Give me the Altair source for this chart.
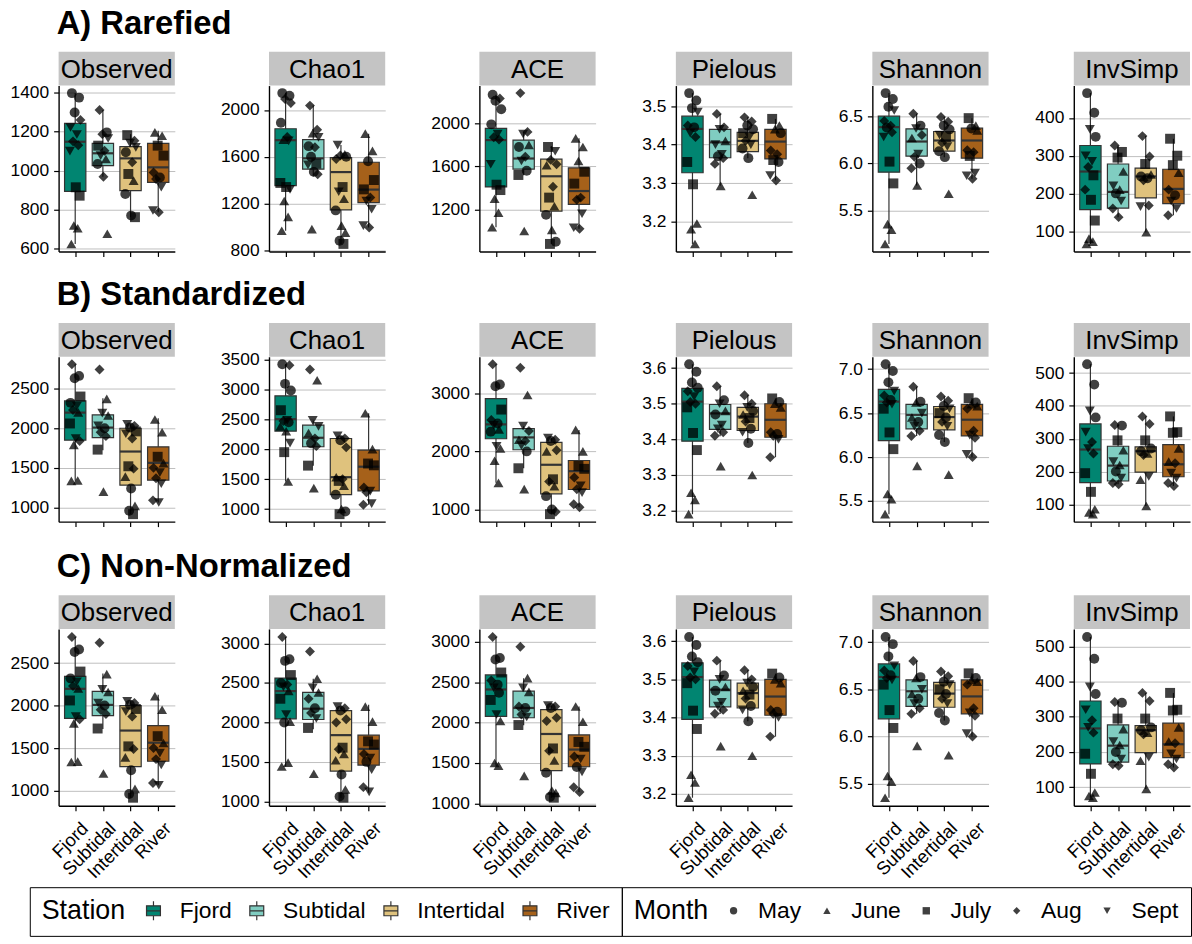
import altair as alt
import pandas as pd

FONT = "Liberation Sans"

STATIONS = ["Fjord", "Subtidal", "Intertidal", "River"]
STATION_COLORS = ["#018571", "#80cdc1", "#dfc27d", "#a6611a"]
MONTHS = ["May", "June", "July", "Aug", "Sept"]
MONTH_SHAPES = ["circle", "triangle-up", "square", "diamond", "triangle-down"]
MAY, JUN, JUL, AUG, SEP = MONTHS

# ---------------------------------------------------------------- A) Rarefied
RAR_OBSERVED = {
    "Fjord": [(1397, MAY), (1374, MAY), (1298, MAY), (1260, AUG), (1221, SEP), (1185, SEP), (1150, AUG),
              (1130, AUG), (1100, SEP), (915, JUL), (872, JUL), (719, JUN), (705, JUN), (625, JUN)],
    "Subtidal": [(1311, AUG), (1196, MAY), (1187, AUG), (1165, SEP), (1128, JUL), (1102, AUG), (1077, SEP),
                 (1060, JUN), (1034, MAY), (969, AUG), (677, JUN)],
    "Intertidal": [(1182, JUL), (1153, AUG), (1141, SEP), (1119, SEP), (1094, MAY), (1043, AUG), (983, JUL),
                   (949, JUN), (881, MAY), (770, MAY), (762, JUL)],
    "River": [(1196, JUN), (1179, JUN), (1128, JUL), (1077, JUL), (991, AUG), (965, MAY), (957, AUG),
              (915, SEP), (796, SEP), (787, AUG)],
}
RAR_OBSERVED_BOX = {"Fjord": (625, 894, 1148, 1242, 1397), "Subtidal": (969, 1026, 1089, 1140, 1311),
                    "Intertidal": (762, 898, 1063, 1123, 1187), "River": (787, 940, 1017, 1140, 1204)}

RAR_CHAO1 = {
    "Fjord": [(2144, MAY), (2121, MAY), (2093, AUG), (2059, AUG), (1890, MAY), (1769, AUG), (1745, JUN),
              (1735, SEP), (1375, JUL), (1340, JUL), (1320, SEP), (1220, JUN), (1085, JUN), (966, JUN)],
    "Subtidal": [(2037, AUG), (1830, AUG), (1800, JUN), (1765, SEP), (1690, MAY), (1680, AUG), (1600, MAY),
                 (1540, JUL), (1530, SEP), (1470, MAY), (1450, AUG), (980, JUN)],
    "Intertidal": [(1699, SEP), (1620, JUN), (1610, AUG), (1600, MAY), (1580, AUG), (1340, JUL), (1300, SEP),
                   (1240, JUN), (1140, MAY), (1010, JUN), (950, JUN), (880, MAY), (853, JUL)],
    "River": [(1797, JUN), (1650, JUN), (1560, MAY), (1400, JUL), (1320, JUL), (1250, AUG), (1220, SEP),
              (1150, SEP), (1010, SEP), (994, AUG)],
}
RAR_CHAO1_BOX = {"Fjord": (966, 1352, 1741, 1839, 2144), "Subtidal": (1431, 1493, 1586, 1746, 2037),
                 "Intertidal": (853, 1144, 1468, 1592, 1699), "River": (994, 1206, 1318, 1552, 1797)}

RAR_ACE = {
    "Fjord": [(2265, MAY), (2230, AUG), (2210, MAY), (2130, MAY), (1990, MAY), (1900, SEP), (1870, AUG),
              (1850, AUG), (1620, SEP), (1430, JUL), (1380, JUL), (1300, JUN), (1170, JUN), (1035, JUN)],
    "Subtidal": [(2280, AUG), (1920, AUG), (1900, SEP), (1800, JUN), (1780, MAY), (1690, AUG), (1650, SEP),
                 (1560, MAY), (1520, JUL), (1000, JUN)],
    "Intertidal": [(1780, JUL), (1740, SEP), (1660, AUG), (1620, AUG), (1610, JUN), (1410, AUG), (1310, JUL),
                   (1230, JUN), (1150, MAY), (1010, JUN), (900, MAY), (880, JUL)],
    "River": [(1860, JUN), (1780, JUN), (1650, JUN), (1550, JUL), (1440, JUL), (1310, AUG), (1290, AUG),
              (1160, SEP), (1030, SEP), (1020, AUG)],
}
RAR_ACE_BOX = {"Fjord": (1035, 1409, 1844, 1953, 2265), "Subtidal": (1518, 1574, 1673, 1844, 1920),
               "Intertidal": (880, 1184, 1508, 1667, 1788), "River": (1020, 1247, 1371, 1586, 1860)}

RAR_PIELOUS = {
    "Fjord": [(3.534, MAY), (3.515, MAY), (3.495, MAY), (3.485, SEP), (3.45, AUG), (3.445, MAY), (3.43, SEP),
              (3.42, AUG), (3.355, JUL), (3.297, JUL), (3.195, JUN), (3.18, JUN), (3.142, JUN)],
    "Subtidal": [(3.48, AUG), (3.445, AUG), (3.44, SEP), (3.41, JUN), (3.40, SEP), (3.375, SEP), (3.37, MAY),
                 (3.365, AUG), (3.35, AUG), (3.293, JUN)],
    "Intertidal": [(3.471, AUG), (3.46, AUG), (3.45, MAY), (3.44, MAY), (3.43, JUL), (3.42, SEP), (3.41, AUG),
                   (3.40, SEP), (3.39, MAY), (3.365, MAY), (3.27, JUN)],
    "River": [(3.467, JUL), (3.45, JUN), (3.44, JUN), (3.43, MAY), (3.385, AUG), (3.375, AUG), (3.36, JUL),
              (3.355, MAY), (3.32, SEP), (3.307, AUG)],
}
RAR_PIELOUS_BOX = {"Fjord": (3.142, 3.327, 3.441, 3.474, 3.534), "Subtidal": (3.293, 3.366, 3.406, 3.44, 3.48),
                   "Intertidal": (3.365, 3.382, 3.41, 3.432, 3.471), "River": (3.307, 3.363, 3.408, 3.44, 3.467)}

RAR_SHANNON = {
    "Fjord": [(6.743, MAY), (6.68, MAY), (6.60, MAY), (6.56, SEP), (6.45, AUG), (6.40, AUG), (6.38, MAY),
              (6.33, AUG), (6.28, SEP), (6.02, JUL), (5.79, JUL), (5.36, JUN), (5.30, JUN), (5.151, JUN)],
    "Subtidal": [(6.525, AUG), (6.40, MAY), (6.37, SEP), (6.30, AUG), (6.27, JUN), (6.10, SEP), (6.07, AUG),
                 (6.00, MAY), (5.95, AUG), (5.768, JUN)],
    "Intertidal": [(6.49, AUG), (6.44, AUG), (6.40, MAY), (6.36, MAY), (6.30, SEP), (6.28, JUL), (6.22, AUG),
                   (6.18, SEP), (6.13, MAY), (6.067, MAY), (5.68, JUN)],
    "River": [(6.479, JUL), (6.40, JUN), (6.37, MAY), (6.35, JUN), (6.14, AUG), (6.12, AUG), (6.08, JUL),
              (5.90, SEP), (5.87, SEP), (5.838, AUG)],
}
RAR_SHANNON_BOX = {"Fjord": (5.151, 5.908, 6.384, 6.50, 6.743), "Subtidal": (5.768, 6.077, 6.232, 6.366, 6.525),
                   "Intertidal": (6.067, 6.13, 6.243, 6.338, 6.49), "River": (5.838, 6.056, 6.243, 6.373, 6.479)}

RAR_INVSIMP = {
    "Fjord": [(466, MAY), (414, MAY), (370, SEP), (350, MAY), (300, SEP), (285, SEP), (270, AUG), (248, JUL),
              (210, AUG), (183, JUL), (128, JUL), (80, JUN), (72, JUN), (66, JUN)],
    "Subtidal": [(327, AUG), (310, JUL), (295, JUL), (258, JUN), (220, SEP), (210, JUN), (200, MAY),
                 (180, SEP), (160, AUG), (137, AUG)],
    "Intertidal": [(352, AUG), (298, AUG), (278, JUL), (250, JUN), (245, MAY), (240, MAY), (235, AUG),
                   (168, AUG), (165, SEP), (97, JUN)],
    "River": [(345, JUL), (300, JUL), (275, JUL), (255, JUN), (210, AUG), (195, MAY), (180, SEP), (160, SEP),
              (142, AUG)],
}
RAR_INVSIMP_BOX = {"Fjord": (66, 157, 258, 327, 466), "Subtidal": (137, 161, 204, 278, 327),
                   "Intertidal": (97, 188, 245, 267, 352), "River": (142, 173, 212, 264, 345)}

# ------------------------------------------------------------ B) Standardized
STD_OBSERVED = {
    "Fjord": [(2807, AUG), (2660, MAY), (2630, MAY), (2400, JUL), (2320, MAY), (2280, SEP), (2230, AUG),
              (2200, JUN), (2060, JUL), (1870, SEP), (1840, AUG), (1790, JUN), (1340, JUN), (1336, JUN)],
    "Subtidal": [(2740, AUG), (2370, JUN), (2190, SEP), (2160, JUN), (2030, SEP), (2000, MAY), (1950, AUG),
                 (1900, AUG), (1730, JUL), (1200, JUN)],
    "Intertidal": [(2050, SEP), (2030, AUG), (2010, MAY), (1960, JUL), (1930, SEP), (1870, AUG), (1520, JUL),
                   (1490, AUG), (1390, JUN), (1240, MAY), (1020, JUN), (960, MAY), (916, JUL)],
    "River": [(2110, JUN), (1950, JUN), (1640, JUL), (1560, JUN), (1500, AUG), (1440, SEP), (1370, AUG),
              (1300, SEP), (1090, AUG), (1063, SEP)],
}
STD_OBSERVED_BOX = {"Fjord": (1336, 1849, 2197, 2344, 2807), "Subtidal": (1723, 1882, 2008, 2168, 2378),
                    "Intertidal": (916, 1282, 1706, 2000, 2059), "River": (1063, 1345, 1563, 1765, 2126)}

STD_CHAO1 = {
    "Fjord": [(3417, MAY), (3400, AUG), (3090, MAY), (2980, MAY), (2650, JUL), (2480, SEP), (2470, AUG),
              (2450, MAY), (2380, JUN), (2300, JUN), (2100, SEP), (1950, JUL), (1460, JUN)],
    "Subtidal": [(3330, AUG), (3150, JUN), (2480, SEP), (2380, SEP), (2270, JUN), (2180, AUG), (2100, MAY),
                 (2050, AUG), (1725, JUL), (1350, JUN)],
    "Intertidal": [(2222, SEP), (2180, AUG), (2150, MAY), (2030, AUG), (1530, JUN), (1500, AUG), (1470, JUL),
                   (1390, JUN), (1240, MAY), (1000, JUN), (960, MAY), (915, JUL)],
    "River": [(2600, JUN), (2000, JUN), (1760, JUL), (1730, JUL), (1360, AUG), (1300, SEP), (1280, AUG),
              (1090, SEP), (1072, AUG)],
}
STD_CHAO1_BOX = {"Fjord": (1460, 2300, 2500, 2890, 3417), "Subtidal": (1725, 2040, 2190, 2400, 2480),
                 "Intertidal": (915, 1240, 1532, 2178, 2222), "River": (1072, 1303, 1707, 1984, 2600)}

STD_ACE = {
    "Fjord": [(3500, AUG), (3150, MAY), (3120, MAY), (2720, JUL), (2540, AUG), (2480, MAY), (2450, SEP),
              (2380, JUN), (2340, MAY), (2090, SEP), (2050, JUN), (1840, JUN), (1459, JUN)],
    "Subtidal": [(3440, AUG), (2970, JUN), (2435, SEP), (2350, AUG), (2200, JUN), (2180, AUG), (2100, SEP),
                 (2000, MAY), (1710, JUL), (1350, JUN)],
    "Intertidal": [(2230, SEP), (2200, AUG), (2180, MAY), (2020, AUG), (2000, JUN), (1520, JUL), (1480, AUG),
                   (1400, JUN), (1230, MAY), (1000, MAY), (960, AUG), (920, JUL)],
    "River": [(2370, JUN), (2000, JUN), (1750, JUL), (1700, JUL), (1550, AUG), (1410, SEP), (1350, AUG),
              (1290, SEP), (1090, AUG), (1040, AUG)],
}
STD_ACE_BOX = {"Fjord": (1459, 2218, 2465, 2908, 3500), "Subtidal": (1710, 2029, 2241, 2391, 2435),
               "Intertidal": (920, 1270, 1770, 2155, 2230), "River": (1040, 1344, 1660, 1844, 2370)}

STD_PIELOUS = {
    "Fjord": [(3.611, MAY), (3.59, MAY), (3.56, MAY), (3.545, MAY), (3.535, AUG), (3.52, SEP), (3.505, AUG),
              (3.50, AUG), (3.49, JUL), (3.418, JUL), (3.37, JUL), (3.25, JUN), (3.23, JUN), (3.19, JUN)],
    "Subtidal": [(3.549, AUG), (3.51, MAY), (3.50, SEP), (3.48, JUN), (3.47, MAY), (3.44, SEP), (3.43, SEP),
                 (3.42, AUG), (3.41, AUG), (3.325, JUN)],
    "Intertidal": [(3.524, AUG), (3.50, AUG), (3.49, SEP), (3.48, MAY), (3.47, JUN), (3.46, JUL), (3.45, AUG),
                   (3.43, MAY), (3.42, SEP), (3.39, MAY), (3.30, JUN)],
    "River": [(3.515, JUL), (3.505, MAY), (3.50, JUN), (3.49, JUN), (3.42, AUG), (3.415, MAY), (3.41, AUG),
              (3.40, SEP), (3.35, AUG)],
}
STD_PIELOUS_BOX = {"Fjord": (3.19, 3.395, 3.506, 3.543, 3.611), "Subtidal": (3.409, 3.428, 3.473, 3.498, 3.549),
                   "Intertidal": (3.39, 3.425, 3.464, 3.49, 3.524), "River": (3.35, 3.406, 3.455, 3.50, 3.515)}

STD_SHANNON = {
    "Fjord": [(7.056, MAY), (6.98, MAY), (6.85, MAY), (6.75, SEP), (6.70, AUG), (6.65, MAY), (6.62, AUG),
              (6.60, SEP), (6.55, JUL), (6.28, JUL), (6.09, JUL), (5.58, JUN), (5.52, JUN), (5.35, JUN)],
    "Subtidal": [(6.80, AUG), (6.63, MAY), (6.62, JUN), (6.50, SEP), (6.45, JUN), (6.40, MAY), (6.35, SEP),
                 (6.30, AUG), (6.24, AUG), (5.90, JUN)],
    "Intertidal": [(6.69, AUG), (6.64, AUG), (6.58, MAY), (6.55, SEP), (6.50, JUL), (6.45, MAY), (6.40, AUG),
                   (6.35, SEP), (6.25, MAY), (6.17, MAY), (5.80, JUN)],
    "River": [(6.67, JUL), (6.62, MAY), (6.60, JUN), (6.58, JUN), (6.55, AUG), (6.30, AUG), (6.25, SEP),
              (6.22, AUG), (6.03, SEP), (6.00, AUG)],
}
STD_SHANNON_BOX = {"Fjord": (5.35, 6.187, 6.631, 6.77, 7.056), "Subtidal": (6.24, 6.32, 6.48, 6.60, 6.80),
                   "Intertidal": (6.17, 6.31, 6.455, 6.575, 6.69), "River": (6.00, 6.24, 6.425, 6.60, 6.67)}

STD_INVSIMP = {
    "Fjord": [(527, MAY), (465, MAY), (385, SEP), (365, MAY), (320, SEP), (290, AUG), (270, SEP), (255, AUG),
              (195, JUL), (138, JUL), (85, JUN), (75, JUN), (70, JUN)],
    "Subtidal": [(342, AUG), (340, MAY), (295, JUL), (265, JUN), (230, SEP), (220, JUN), (200, MAY),
                 (180, SEP), (165, AUG), (161, AUG)],
    "Intertidal": [(368, AUG), (345, AUG), (295, JUL), (270, MAY), (262, MAY), (255, JUN), (250, AUG),
                   (185, SEP), (175, JUN), (95, JUN)],
    "River": [(368, JUL), (320, JUL), (318, JUL), (270, JUN), (230, JUN), (225, AUG), (195, SEP), (180, SEP),
              (165, AUG), (156, AUG)],
}
STD_INVSIMP_BOX = {"Fjord": (70, 166, 267, 345, 527), "Subtidal": (161, 171, 218, 277, 342),
                   "Intertidal": (95, 198, 262, 275, 368), "River": (156, 184, 222, 282, 368)}

# --------------------------------------------------------- C) Non-Normalized
RAW_OBSERVED, RAW_OBSERVED_BOX = STD_OBSERVED, STD_OBSERVED_BOX
RAW_PIELOUS, RAW_PIELOUS_BOX = STD_PIELOUS, STD_PIELOUS_BOX
RAW_SHANNON, RAW_SHANNON_BOX = STD_SHANNON, STD_SHANNON_BOX
RAW_INVSIMP, RAW_INVSIMP_BOX = STD_INVSIMP, STD_INVSIMP_BOX

RAW_CHAO1 = {
    "Fjord": [(3083, AUG), (2800, MAY), (2780, MAY), (2600, JUL), (2500, MAY), (2480, AUG), (2450, SEP),
              (2400, JUN), (2300, JUL), (2100, SEP), (2010, JUN), (2000, MAY), (1490, JUN), (1442, JUN)],
    "Subtidal": [(2900, AUG), (2554, JUN), (2440, SEP), (2380, JUN), (2300, AUG), (2180, MAY), (2120, AUG),
                 (2050, SEP), (1930, JUL), (1350, JUN)],
    "Intertidal": [(2200, SEP), (2180, AUG), (2150, MAY), (2040, AUG), (2000, AUG), (1680, JUL), (1660, AUG),
                   (1600, JUN), (1520, JUN), (1340, MAY), (1150, JUN), (1060, MAY), (1046, JUL)],
    "River": [(2200, JUN), (2010, JUN), (1760, JUL), (1720, JUL), (1600, AUG), (1550, SEP), (1500, MAY),
              (1400, SEP), (1180, AUG), (1120, SEP)],
}
RAW_CHAO1_BOX = {"Fjord": (1442, 2045, 2397, 2562, 3083), "Subtidal": (1913, 2037, 2174, 2380, 2554),
                 "Intertidal": (1046, 1384, 1839, 2149, 2223), "River": (1108, 1459, 1665, 1839, 2223)}

RAW_ACE = {
    "Fjord": [(3060, AUG), (2800, MAY), (2780, MAY), (2620, JUL), (2520, AUG), (2470, MAY), (2430, SEP),
              (2370, MAY), (2280, JUL), (2100, SEP), (2020, JUN), (1500, JUN), (1466, JUN)],
    "Subtidal": [(2940, AUG), (2550, JUN), (2430, SEP), (2380, JUN), (2200, AUG), (2180, MAY), (2100, AUG),
                 (2070, SEP), (1970, JUL), (1340, JUN)],
    "Intertidal": [(2210, SEP), (2200, AUG), (2180, MAY), (2060, AUG), (2020, AUG), (1680, JUL), (1650, AUG),
                   (1530, JUN), (1380, MAY), (1160, JUN), (1130, JUN), (1080, MAY), (1070, JUL)],
    "River": [(2200, JUN), (2010, JUN), (1760, JUL), (1700, JUL), (1580, AUG), (1550, SEP), (1450, MAY),
              (1390, SEP), (1200, AUG), (1140, AUG)],
}
RAW_ACE_BOX = {"Fjord": (1466, 2076, 2410, 2590, 3060), "Subtidal": (1968, 2060, 2181, 2390, 2550),
               "Intertidal": (1070, 1406, 1859, 2161, 2210), "River": (1140, 1453, 1666, 1847, 2200)}

# y-axis tick values per panel
TICKS_RAR = [[600, 800, 1000, 1200, 1400], [800, 1200, 1600, 2000], [1200, 1600, 2000],
             [3.2, 3.3, 3.4, 3.5], [5.5, 6.0, 6.5], [100, 200, 300, 400]]
TICKS_STD = [[1000, 1500, 2000, 2500], [1000, 1500, 2000, 2500, 3000, 3500], [1000, 2000, 3000],
             [3.2, 3.3, 3.4, 3.5, 3.6], [5.5, 6.0, 6.5, 7.0], [100, 200, 300, 400, 500]]
TICKS_RAW = [[1000, 1500, 2000, 2500], [1000, 1500, 2000, 2500, 3000], [1000, 1500, 2000, 2500, 3000],
             [3.2, 3.3, 3.4, 3.5, 3.6], [5.5, 6.0, 6.5, 7.0], [100, 200, 300, 400, 500]]

METRICS = ["Observed", "Chao1", "ACE", "Pielous", "Shannon", "InvSimp"]
FORMATS = ["d", "d", "d", ".1f", ".1f", "d"]

# horizontal spread of the points inside each station column
JITTER = [-0.12, 0.14, -0.02, 0.19, -0.17, 0.06, -0.08, 0.11, -0.19, 0.02, 0.16, -0.05, 0.09, -0.14, 0.04]

PANEL_W = 117
STRIP_H = 34
BOX_HALF = 0.385
INK = "#333333"

color_scale = alt.Scale(domain=STATIONS, range=STATION_COLORS)
shape_scale = alt.Scale(domain=MONTHS, range=MONTH_SHAPES)

# small boxplot glyph for the station key
BOX_GLYPH = "M-0.7,-0.5H0.7V0.5H-0.7Z M0,-0.5V-0.95 M0,0.5V0.95 M-0.7,0H0.7"

station_legend = alt.Legend(
    title="Station", orient="none", legendX=-29, legendY=807, direction="horizontal",
    titleOrient="left", titleFontSize=27, titleFontWeight="normal", titleColor="black",
    titleFont=FONT, titlePadding=16, labelFont=FONT, labelFontSize=23, labelColor="black",
    labelOffset=15, columnPadding=13, symbolType=BOX_GLYPH, symbolSize=400,
    symbolStrokeColor=INK, symbolStrokeWidth=1.2, strokeColor="black", padding=12,
)
month_legend = alt.Legend(
    title="Month", orient="none", legendX=567, legendY=807, direction="horizontal",
    titleOrient="left", titleFontSize=27, titleFontWeight="normal", titleColor="black",
    titleFont=FONT, titlePadding=13, labelFont=FONT, labelFontSize=23, labelColor="black",
    labelOffset=13, columnPadding=14, symbolSize=55, symbolFillColor="black",
    symbolStrokeWidth=0, strokeColor="black", padding=12,
)


def panel(metric, points, box, ticks, fmt, height, show_labels):
    rows = []
    for si, st in enumerate(STATIONS):
        for k, (v, m) in enumerate(points[st]):
            rows.append({"station": st, "pos": si + JITTER[k % len(JITTER)], "value": v, "month": m})
    pdf = pd.DataFrame(rows)
    bdf = pd.DataFrame([
        {"station": st, "idx": si, "lo": box[st][0], "q1": box[st][1], "med": box[st][2],
         "q3": box[st][3], "hi": box[st][4]}
        for si, st in enumerate(STATIONS)
    ])
    allv = list(pdf["value"]) + list(bdf["lo"]) + list(bdf["hi"])
    vmin, vmax = min(allv), max(allv)
    pad = 0.05 * (vmax - vmin)

    yscale = alt.Scale(domain=[vmin - pad, vmax + pad], nice=False, zero=False)
    xscale = alt.Scale(domain=[-0.6, 3.6], nice=False, zero=False)
    yaxis = alt.Axis(values=ticks, format=fmt, title=None, grid=True)
    if show_labels:
        xaxis = alt.Axis(values=[0, 1, 2, 3], title=None, grid=False, labelAngle=-45,
                         labelAlign="right", labelBaseline="top", labelFontSize=18.5,
                         labelOverlap=False, labelPadding=8, labelOffset=3,
                         labelExpr="['Fjord','Subtidal','Intertidal','River'][datum.value]")
    else:
        xaxis = alt.Axis(values=[0, 1, 2, 3], title=None, grid=False, labels=False)

    # grey header strip with the metric name, sitting on top of the plot area
    sdf = pd.DataFrame({"metric": [metric]})
    strip_bg = alt.Chart(sdf).mark_rect(color="#C4C4C4").encode(
        x=alt.value(0), x2=alt.value(PANEL_W), y=alt.value(-STRIP_H), y2=alt.value(0)
    )
    strip_txt = alt.Chart(sdf).mark_text(fontSize=26, font=FONT, color="black").encode(
        x=alt.value(PANEL_W / 2), y=alt.value(-STRIP_H / 2 + 1), text="metric:N"
    )

    base = alt.Chart(bdf).transform_calculate(
        left=f"datum.idx - {BOX_HALF}", right=f"datum.idx + {BOX_HALF}"
    )
    whisker = base.mark_rule(color=INK, strokeWidth=1.2).encode(
        x=alt.X("idx:Q", scale=xscale, axis=xaxis),
        y=alt.Y("lo:Q", scale=yscale, axis=yaxis),
        y2="hi:Q",
    )
    boxes = base.mark_bar(stroke=INK, strokeWidth=1.2).encode(
        x=alt.X("left:Q", scale=xscale, axis=xaxis),
        x2="right:Q",
        y=alt.Y("q1:Q", scale=yscale, axis=yaxis),
        y2="q3:Q",
        fill=alt.Fill("station:N", scale=color_scale, legend=station_legend),
    )
    median = base.mark_rule(color=INK, strokeWidth=2.2).encode(
        x=alt.X("left:Q", scale=xscale, axis=xaxis),
        x2="right:Q",
        y=alt.Y("med:Q", scale=yscale, axis=yaxis),
    )
    dots = alt.Chart(pdf).mark_point(filled=True, color="black", opacity=0.75, size=100).encode(
        x=alt.X("pos:Q", scale=xscale, axis=xaxis),
        y=alt.Y("value:Q", scale=yscale, axis=yaxis),
        shape=alt.Shape("month:N", scale=shape_scale, legend=month_legend),
    )
    return alt.layer(whisker, boxes, median, dots, strip_bg, strip_txt).properties(
        width=PANEL_W, height=height
    )


def row(title, datasets, boxsets, ticks, height, show_labels):
    panels = [
        panel(METRICS[i], datasets[i], boxsets[i], ticks[i], FORMATS[i], height, show_labels)
        for i in range(len(METRICS))
    ]
    return alt.hconcat(*panels, spacing=45.8).properties(
        title=alt.TitleParams(title, anchor="start", fontSize=33, fontWeight="bold",
                              font=FONT, color="black", offset=11, dx=47)
    )


row_a = row("A) Rarefied",
            [RAR_OBSERVED, RAR_CHAO1, RAR_ACE, RAR_PIELOUS, RAR_SHANNON, RAR_INVSIMP],
            [RAR_OBSERVED_BOX, RAR_CHAO1_BOX, RAR_ACE_BOX, RAR_PIELOUS_BOX, RAR_SHANNON_BOX, RAR_INVSIMP_BOX],
            TICKS_RAR, 167, False)
row_b = row("B) Standardized",
            [STD_OBSERVED, STD_CHAO1, STD_ACE, STD_PIELOUS, STD_SHANNON, STD_INVSIMP],
            [STD_OBSERVED_BOX, STD_CHAO1_BOX, STD_ACE_BOX, STD_PIELOUS_BOX, STD_SHANNON_BOX, STD_INVSIMP_BOX],
            TICKS_STD, 166, False)
row_c = row("C) Non-Normalized",
            [RAW_OBSERVED, RAW_CHAO1, RAW_ACE, RAW_PIELOUS, RAW_SHANNON, RAW_INVSIMP],
            [RAW_OBSERVED_BOX, RAW_CHAO1_BOX, RAW_ACE_BOX, RAW_PIELOUS_BOX, RAW_SHANNON_BOX, RAW_INVSIMP_BOX],
            TICKS_RAW, 178, True)

upper = alt.vconcat(row_a, row_b, spacing=20)
chart = alt.vconcat(upper, row_c, spacing=24).resolve_scale(
    fill="shared", shape="shared"
).properties(
    padding={"left": 10, "top": 5, "right": 0, "bottom": 0}
).configure(
    font=FONT
).configure_view(
    stroke=None
).configure_axis(
    labelFont=FONT, labelFontSize=17.5, labelColor="black", labelPadding=5,
    domainColor="black", domainWidth=1.4, tickColor="black", tickWidth=1.2, tickSize=5,
    gridColor="#BEBEBE", gridWidth=1,
)

chart.save("out.html", embed_options={"renderer": "svg", "actions": False})
